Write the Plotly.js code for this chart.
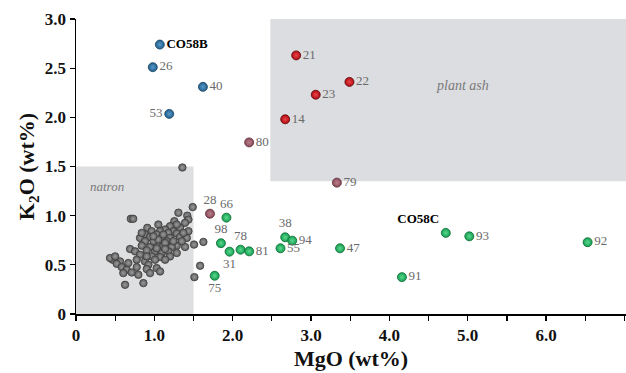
<!DOCTYPE html>
<html><head><meta charset="utf-8">
<script src="https://cdn.plot.ly/plotly-3.0.1.min.js"></script>
<style>html,body{margin:0;padding:0;background:#fff}#c{width:626px;height:373px}</style>
</head><body><div id="c"></div>
<script>
// Grey (natron-type) samples
const greyMgO = [1.358,1.49,1.307,1.42,0.70,0.73,1.435,1.255,1.392,1.051,1.2,0.91,1.328,1.137,0.966,1.073,1.243,1.435,0.881,1.179,1.286,1.03,0.817,0.945,1.094,1.2,1.328,1.414,0.881,1.158,1.626,1.507,1.392,1.286,1.03,1.115,1.222,0.945,0.839,0.69,0.754,0.903,1.009,1.094,1.179,1.286,0.817,0.966,1.073,1.2,0.468,0.562,0.775,0.881,1.009,1.137,0.668,0.924,0.52,0.584,0.647,0.775,0.903,1.03,1.584,1.073,0.711,0.796,0.604,0.945,1.511,0.626,0.86,0.99,1.05,1.115,1.137,1.243,1.35,1.03,1.137,0.839,0.988,0.434,0.5,1.286,1.37,0.903];
const greyK2O = [1.49,1.087,1.03,1.00,0.968,0.968,0.96,0.944,0.927,0.91,0.893,0.876,0.876,0.859,0.842,0.842,0.842,0.842,0.808,0.825,0.818,0.808,0.774,0.784,0.774,0.774,0.784,0.774,0.74,0.74,0.733,0.706,0.682,0.695,0.706,0.695,0.682,0.682,0.695,0.661,0.637,0.647,0.637,0.621,0.637,0.621,0.603,0.586,0.58,0.586,0.552,0.535,0.552,0.535,0.552,0.552,0.518,0.501,0.511,0.477,0.45,0.477,0.457,0.467,0.491,0.433,0.423,0.399,0.416,0.416,0.375,0.297,0.314,0.74,0.757,0.808,0.723,0.74,0.74,0.668,0.661,0.825,0.79,0.569,0.586,0.91,0.825,0.586];

// Blue group
const blueLabels = ['<b>CO58B</b>','26','40','53'];
const blueMgO = [1.07,0.98,1.62,1.19];
const blueK2O = [2.74,2.51,2.31,2.035];
const bluePos = ['middle right','middle right','middle right','middle left'];

// Red group
const redLabels = ['21','22','23','14'];
const redMgO = [2.81,3.49,3.06,2.67];
const redK2O = [2.63,2.36,2.23,1.98];
const redPos = ['middle right','middle right','middle right','middle right'];

// Mauve group
const mauveLabels = ['80','79','28'];
const mauveMgO = [2.21,3.33,1.71];
const mauveK2O = [1.745,1.336,1.02];
const mauvePos = ['middle right','middle right','top center'];

// Green group
const greenLabels = ['66','98','31','78','81','38','94','55','47','75','<b>CO58C</b>','93','91','92'];
const greenMgO = [1.92,1.85,1.96,2.10,2.21,2.67,2.76,2.61,3.37,1.77,4.72,5.02,4.16,6.53];
const greenK2O = [0.98,0.72,0.634,0.654,0.637,0.78,0.746,0.668,0.668,0.389,0.825,0.79,0.375,0.73];
const greenPos = ['top center','top center','bottom center','top center','middle right','top center','middle right','middle right','middle right','bottom center','top left','middle right','middle right','middle right'];

const SERIF = "'Liberation Serif', 'Times New Roman', Times, serif";
const labelFont = {family:SERIF, size:13, color:'#6a6a6a'};
function grp(x,y,t,pos,col,hi,edge,size){
  return {type:'scatter',mode:'markers+text',x:x,y:y,text:t,textposition:pos,
    textfont:labelFont,cliponaxis:false,hoverinfo:'skip',
    marker:{size:size,color:col,gradient:{type:'radial',color:hi},line:{color:edge,width:0.8}}};
}
const data = [
  {type:'scatter',mode:'markers',x:greyMgO,y:greyK2O,hoverinfo:'skip',
   marker:{size:7.5,color:'#5e5e5e',gradient:{type:'radial',color:'#9a9a9a'},line:{color:'#3c3c3c',width:0.8}}},
  grp(blueMgO,blueK2O,blueLabels,bluePos,'#1f5f8f','#5a9ac8','#18425f',9),
  grp(redMgO,redK2O,redLabels,redPos,'#b30a12','#e8454a','#5a0508',9),
  grp(mauveMgO,mauveK2O,mauveLabels,mauvePos,'#8a4a58','#b9808c','#5a2a35',9),
  grp(greenMgO,greenK2O,greenLabels,greenPos,'#14a050','#5cd890','#0b6a33',9)
];
data[1].textfont = {family:SERIF, size:13, color:['#000','#6a6a6a','#6a6a6a','#6a6a6a']};
data[4].textfont = {family:SERIF, size:13, color:greenLabels.map(l=>l.indexOf('CO58')>=0?'#000':'#6a6a6a')};

const tickFont = {family:SERIF, size:17, color:'#111', weight:700};
const layout = {
  width:626,height:373,margin:{l:76,r:0,t:19,b:59},
  font:{family:SERIF},
  paper_bgcolor:'#fff',plot_bgcolor:'#fff',showlegend:false,
  xaxis:{range:[0,7.02],showgrid:false,zeroline:false,showline:true,linecolor:'#000',linewidth:1.5,
    ticks:'outside',ticklen:5,tickwidth:1.2,tickcolor:'#000',tick0:0,dtick:1,tickformat:'.1f',
    labelalias:{'0.0':'0'},tickfont:tickFont,
    minor:{dtick:0.5,ticks:'outside',ticklen:5,tickcolor:'#000',tickwidth:1.2},
    title:{text:'<b>MgO (wt%)</b>',font:{family:SERIF,size:22,color:'#111'},standoff:6}},
  yaxis:{range:[0,3.0],showgrid:false,zeroline:false,showline:true,linecolor:'#000',linewidth:1.5,
    ticks:'outside',ticklen:5,tickwidth:1.2,tickcolor:'#000',tick0:0,dtick:0.5,tickformat:'.1f',
    labelalias:{'0.0':'0'},tickfont:tickFont,
    title:{text:'<b>K<sub>2</sub>O (wt%)</b>',font:{family:SERIF,size:22,color:'#111'},standoff:4}},
  shapes:[
    {type:'rect',xref:'x',yref:'y',x0:0,x1:1.5,y0:0,y1:1.5,fillcolor:'#dedfe1',line:{width:0},layer:'below'},
    {type:'rect',xref:'x',yref:'y',x0:2.48,x1:7.02,y0:1.35,y1:3.0,fillcolor:'#dcdde0',line:{width:0},layer:'below'}
  ],
  annotations:[
    {x:0.39,y:1.30,xref:'x',yref:'y',text:'<i>natron</i>',showarrow:false,font:{family:SERIF,size:13,color:'#7a7a7a'}},
    {x:4.93,y:2.32,xref:'x',yref:'y',text:'<i>plant ash</i>',showarrow:false,font:{family:SERIF,size:14,color:'#7a7a7a'}}
  ]
};
Plotly.newPlot('c',data,layout,{staticPlot:true,displayModeBar:false});
</script></body></html>
